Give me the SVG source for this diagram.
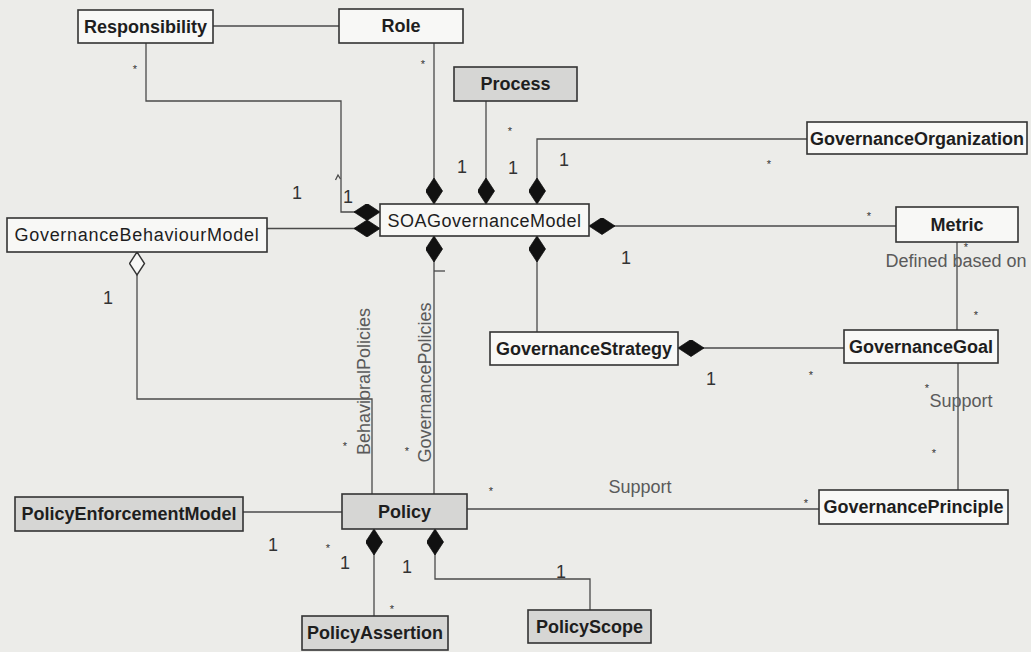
<svg xmlns="http://www.w3.org/2000/svg" width="1031" height="652" viewBox="0 0 1031 652">
  <defs>
    <style>
      .bg { fill: #ecece9; }
      .box { fill: #f8f8f6; stroke: #333; stroke-width: 1.6; }
      .box.grey { fill: #d6d6d4; }
      .name { font-family: "Liberation Sans", Arial, sans-serif; font-size: 18px; font-weight: bold; fill: #1e1e1e; text-anchor: middle; }
      .name.thin { font-weight: normal; }
      .conn { fill: none; stroke: #4a4a4a; stroke-width: 1.3; }
      .lbl { font-family: "Liberation Sans", Arial, sans-serif; font-size: 18px; fill: #5a5a5a; text-anchor: middle; }
      .mult { font-family: "Liberation Sans", Arial, sans-serif; font-size: 18px; fill: #333; text-anchor: middle; }
      .star { font-family: "Liberation Sans", Arial, sans-serif; font-size: 11px; fill: #333; text-anchor: middle; }
    </style>
    <!-- filled diamond: composition end -->
    <marker id="comp" viewBox="0 0 26 17" refX="0" refY="8.5" markerWidth="26" markerHeight="17" markerUnits="userSpaceOnUse" orient="auto">
      <path d="M0,8.5 L13,0 L26,8.5 L13,17 Z" fill="#111" stroke="#111" stroke-width="0.8"/>
    </marker>
    <!-- hollow diamond: aggregation end -->
    <marker id="aggr" viewBox="0 0 26 17" refX="1" refY="8.5" markerWidth="26" markerHeight="17" markerUnits="userSpaceOnUse" orient="auto">
      <path d="M1,8.5 L12.5,1 L24,8.5 L12.5,16 Z" fill="#f8f8f6" stroke="#333" stroke-width="1.4"/>
    </marker>
  </defs>

  <rect class="bg" x="0" y="0" width="1031" height="652"/>

  <g id="connectors">
    <path class="conn" d="M213,26 H339"/>
    <path class="conn" d="M380,212 H341 V101 H146 V43" marker-start="url(#comp)"/>
    <path class="conn" d="M380,228.5 H267" marker-start="url(#comp)"/>
    <path class="conn" d="M434,204 V43" marker-start="url(#comp)"/>
    <path class="conn" d="M486,204 V101" marker-start="url(#comp)"/>
    <path class="conn" d="M537,204 V139 H807" marker-start="url(#comp)"/>
    <path class="conn" d="M589,226 H896" marker-start="url(#comp)"/>
    <path class="conn" d="M434,236 V494" marker-start="url(#comp)"/>
    <path class="conn" d="M537,236 V332" marker-start="url(#comp)"/>
    <path class="conn" d="M678,348 H844" marker-start="url(#comp)"/>
    <path class="conn" d="M137,252 V399 H372 V494" marker-start="url(#aggr)"/>
    <path class="conn" d="M243,512 H342"/>
    <path class="conn" d="M467,509 H819"/>
    <path class="conn" d="M374,529 V616" marker-start="url(#comp)"/>
    <path class="conn" d="M435,529 V579 H590 V610" marker-start="url(#comp)"/>
    <path class="conn" d="M957,242 V330"/>
    <path class="conn" d="M958,363 V490"/>
    <!-- small navigability ticks -->
    <path class="conn" d="M335.5,180 L338,175 L340.5,179"/>
    <path class="conn" d="M434,271 H445"/>

    <!-- association names -->
    <text class="lbl" x="956" y="267">Defined based on</text>
    <text class="lbl" x="961" y="407">Support</text>
    <text class="lbl" x="640" y="493">Support</text>
    <text class="lbl" transform="translate(370,381.5) rotate(-90)">BehavioralPolicies</text>
    <text class="lbl" transform="translate(431,382.5) rotate(-90)">GovernancePolicies</text>

    <!-- multiplicities -->
    <text class="mult" x="297" y="199">1</text>
    <text class="mult" x="348" y="203">1</text>
    <text class="mult" x="462" y="173">1</text>
    <text class="mult" x="513" y="174">1</text>
    <text class="mult" x="564" y="166">1</text>
    <text class="mult" x="626" y="264">1</text>
    <text class="mult" x="108" y="304">1</text>
    <text class="mult" x="711" y="385">1</text>
    <text class="mult" x="273" y="551">1</text>
    <text class="mult" x="345" y="569">1</text>
    <text class="mult" x="407" y="573">1</text>
    <text class="mult" x="561" y="578">1</text>

    <text class="star" x="135" y="73">*</text>
    <text class="star" x="423" y="68">*</text>
    <text class="star" x="510" y="135">*</text>
    <text class="star" x="769" y="168">*</text>
    <text class="star" x="869" y="220">*</text>
    <text class="star" x="966" y="251">*</text>
    <text class="star" x="976" y="319">*</text>
    <text class="star" x="811" y="379">*</text>
    <text class="star" x="927" y="392">*</text>
    <text class="star" x="934" y="457">*</text>
    <text class="star" x="345" y="450">*</text>
    <text class="star" x="407" y="455">*</text>
    <text class="star" x="491" y="495">*</text>
    <text class="star" x="806" y="507">*</text>
    <text class="star" x="328" y="552">*</text>
    <text class="star" x="392" y="613">*</text>
  </g>

  <g id="Responsibility">
    <rect class="box" x="78" y="10" width="135" height="33"/>
    <text class="name" x="145.5" y="33">Responsibility</text>
  </g>
  <g id="Role">
    <rect class="box" x="339" y="9" width="124" height="34"/>
    <text class="name" x="401" y="32">Role</text>
  </g>
  <g id="Process">
    <rect class="box grey" x="454" y="67" width="123" height="34"/>
    <text class="name" x="515.5" y="90">Process</text>
  </g>
  <g id="GovernanceOrganization">
    <rect class="box" x="807" y="122" width="220" height="32"/>
    <text class="name" x="917" y="144.5">GovernanceOrganization</text>
  </g>
  <g id="GovernanceBehaviourModel">
    <rect class="box" x="7" y="218" width="260" height="34"/>
    <text class="name thin" x="137" y="241" letter-spacing="0.7">GovernanceBehaviourModel</text>
  </g>
  <g id="SOAGovernanceModel">
    <rect class="box" x="380" y="204" width="209" height="32"/>
    <text class="name thin" x="484.5" y="226.5" letter-spacing="0.5">SOAGovernanceModel</text>
  </g>
  <g id="Metric">
    <rect class="box" x="896" y="207" width="122" height="35"/>
    <text class="name" x="957" y="230.5">Metric</text>
  </g>
  <g id="GovernanceStrategy">
    <rect class="box" x="490" y="332" width="188" height="33"/>
    <text class="name" x="584" y="355">GovernanceStrategy</text>
  </g>
  <g id="GovernanceGoal">
    <rect class="box" x="844" y="330" width="154" height="33"/>
    <text class="name" x="921" y="353">GovernanceGoal</text>
  </g>
  <g id="PolicyEnforcementModel">
    <rect class="box grey" x="15" y="497" width="228" height="34"/>
    <text class="name" x="129" y="520">PolicyEnforcementModel</text>
  </g>
  <g id="Policy">
    <rect class="box grey" x="342" y="494" width="125" height="35"/>
    <text class="name" x="404.5" y="517.5">Policy</text>
  </g>
  <g id="GovernancePrinciple">
    <rect class="box" x="819" y="490" width="189" height="34"/>
    <text class="name" x="913.5" y="513">GovernancePrinciple</text>
  </g>
  <g id="PolicyAssertion">
    <rect class="box grey" x="302" y="616" width="146" height="34"/>
    <text class="name" x="375" y="639">PolicyAssertion</text>
  </g>
  <g id="PolicyScope">
    <rect class="box grey" x="528" y="610" width="123" height="33"/>
    <text class="name" x="589.5" y="633">PolicyScope</text>
  </g>
</svg>
